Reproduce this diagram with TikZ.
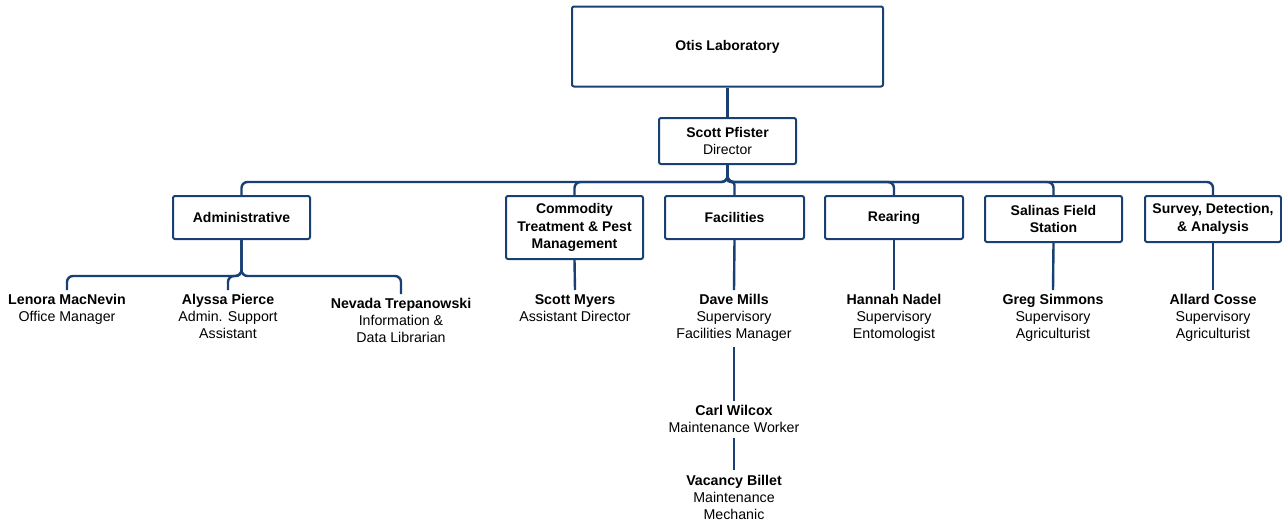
\documentclass[tikz,border=0pt]{standalone}
\usepackage{fontspec}
\setmainfont{Liberation Sans}
\definecolor{navy}{RGB}{24,64,114}
\begin{document}
\begin{tikzpicture}[x=1pt,y=-1pt,
  unitbox/.style={draw=navy,line width=2pt,rounded corners=2pt,fill=white,align=center,
    font=\fontsize{14}{17.5}\selectfont\bfseries,inner sep=0pt},
  person/.style={anchor=north,align=center,inner xsep=2pt,inner ysep=4.5pt,font=\fontsize{14.2}{17}\selectfont},
  link/.style={draw=navy,line width=2.4pt,rounded corners=6pt}]
\useasboundingbox (0,0) rectangle (1282,523);
% boxes
\node[unitbox,minimum width=311pt,minimum height=80pt] (otis) at (727.5,46.5) {Otis Laboratory};
\node[unitbox,minimum width=137pt,minimum height=46pt] (dir) at (727.5,141) {Scott Pfister\\[-1pt]\mdseries Director};
\node[unitbox,minimum width=137pt,minimum height=43pt] (adm) at (241.5,217.5) {Administrative};
\node[unitbox,minimum width=137pt,minimum height=63pt] (com) at (574.5,227.5) {Commodity\\Treatment \& Pest\\Management};
\node[unitbox,minimum width=139pt,minimum height=43pt] (fac) at (734.5,217.5) {Facilities};
\node[unitbox,minimum width=138pt,minimum height=43pt] (rea) at (894,217.5) {Rearing};
\node[unitbox,minimum width=137pt,minimum height=46pt] (sal) at (1053.5,219) {Salinas Field\\Station};
\node[unitbox,minimum width=136pt,minimum height=46pt] (sur) at (1213,219) {Survey, Detection,\\\& Analysis};
% people
\node[person] (len) at (67,290) {\textbf{Lenora MacNevin}\\Office Manager};
\node[person] (aly) at (228,290) {\textbf{Alyssa Pierce}\\Admin. Support\\Assistant};
\node[person] (nev) at (401,294) {\textbf{Nevada Trepanowski}\\Information \&\\Data Librarian};
\node[person] (mye) at (575,290) {\textbf{Scott Myers}\\Assistant Director};
\node[person] (dav) at (734,290) {\textbf{Dave Mills}\\Supervisory\\Facilities Manager};
\node[person] (han) at (894,290) {\textbf{Hannah Nadel}\\Supervisory\\Entomologist};
\node[person] (gre) at (1053,290) {\textbf{Greg Simmons}\\Supervisory\\Agriculturist};
\node[person] (all) at (1213,290) {\textbf{Allard Cosse}\\Supervisory\\Agriculturist};
\node[person] (car) at (734,401) {\textbf{Carl Wilcox}\\Maintenance Worker};
\node[person] (vac) at (734,470) {\textbf{Vacancy Billet}\\Maintenance\\Mechanic};
% connectors
\draw[link] (otis.south) -- (dir.north);
\foreach \c in {adm,com,rea,sal,sur}
  \draw[link] (dir.south) -- ++(0,17) -| (\c.north);
\draw[link,rounded corners=3pt] (dir.south) -- ++(0,17) -| (fac.north);
\foreach \c in {len,aly,nev}
  \draw[link] (adm.south) -- ++(0,36) -| (\c.north);
\draw[link] (com.south) -- (mye.north);
\draw[link] (fac.south) -- (dav.north);
\draw[link] (rea.south) -- (han.north);
\draw[link] (sal.south) -- (gre.north);
\draw[link] (sur.south) -- (all.north);
\draw[link] (dav.south) -- (car.north);
\draw[link] (car.south) -- (vac.north);
\end{tikzpicture}
\end{document}
